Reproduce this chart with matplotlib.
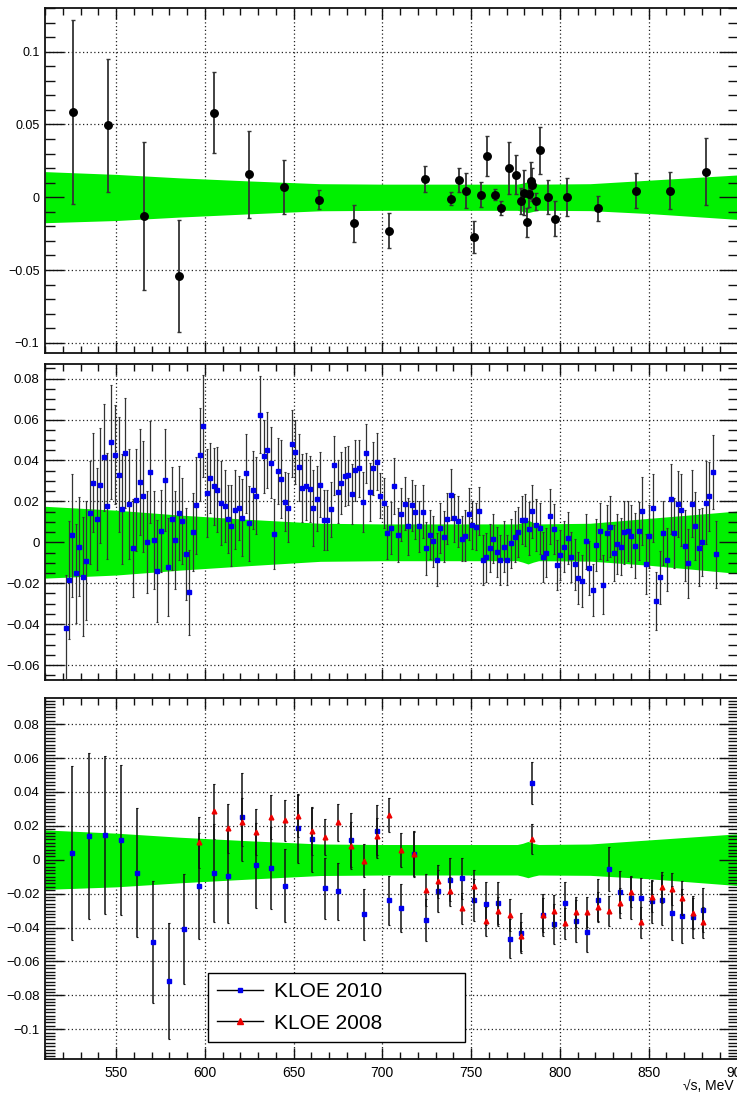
import matplotlib
matplotlib.use("Agg")
import matplotlib.pyplot as plt
from matplotlib.ticker import MultipleLocator, FixedLocator, FuncFormatter
from matplotlib.lines import Line2D

plt.rcParams['font.family'] = ['Liberation Sans', 'DejaVu Sans']

# ---------------- data ----------------
# uncertainty band (common to all panels)
band_x = [510, 550, 586, 625, 665, 700, 740, 776, 779, 782, 785, 788, 817, 850, 900]
band_hi = [0.0176, 0.0157, 0.0133, 0.0112, 0.0093, 0.0090, 0.0090, 0.0090, 0.0097, 0.0108, 0.0097, 0.0090, 0.0093, 0.0117, 0.0153]
band_lo = [-0.0175, -0.0160, -0.0136, -0.0114, -0.0093, -0.0090, -0.0090, -0.0090, -0.0097, -0.0106, -0.0097, -0.0090, -0.0092, -0.0112, -0.0152]

# panel 1 (black circles)
x1 = [525.6, 545.3, 565.5, 585.2, 604.9, 624.8, 644.8, 664.5, 684.2, 703.9, 724.0, 738.7, 743.4, 747.3,
      751.4, 755.6, 759.2, 763.3, 766.7, 771.2, 775.1, 778.3, 780.0, 781.3, 782.6, 783.5, 784.5, 786.7,
      789.0, 793.0, 797.5, 803.7, 821.2, 843.0, 862.1, 882.2]
y1 = [0.0585, 0.0493, -0.0130, -0.0541, 0.0582, 0.0158, 0.0071, -0.0016, -0.0180, -0.0230, 0.0128, -0.0009,
      0.0121, 0.0046, -0.0274, 0.0018, 0.0281, 0.0018, -0.0075, 0.0201, 0.0154, -0.0025, 0.0030, -0.0173,
      0.0025, 0.0114, 0.0087, -0.0028, 0.0322, 0.0004, -0.0148, 0.0004, -0.0077, 0.0046, 0.0046, 0.0176]
e1 = [0.0630, 0.0460, 0.0507, 0.0388, 0.0276, 0.0300, 0.0185, 0.0064, 0.0125, 0.0122, 0.0090, 0.0047,
      0.0083, 0.0120, 0.0110, 0.0088, 0.0137, 0.0037, 0.0050, 0.0176, 0.0133, 0.0090, 0.0155, 0.0100,
      0.0090, 0.0125, 0.0115, 0.0057, 0.0162, 0.0116, 0.0120, 0.0130, 0.0085, 0.0123, 0.0125, 0.0228]

# panel 2 (blue squares)
x2 = [521.7, 523.3, 525.2, 527.3, 529.4, 531.4, 533.3, 535.4, 537.3, 539.3, 541.2, 543.3, 545.1, 547.4,
      549.3, 551.5, 553.4, 555.3, 557.4, 559.4, 561.3, 563.4, 565.4, 567.3, 569.4, 571.3, 573.3, 575.4,
      577.3, 579.3, 581.4, 583.3, 585.2,
      587.2, 589.3, 591.2, 593.2, 595.1, 597.2, 599.1, 601.1, 603.0, 605.1, 607.1, 609.0, 611.1, 613.2,
      615.0, 617.1, 619.2, 621.1, 623.1, 625.0, 627.1, 629.1, 631.0, 633.1, 635.1, 637.0, 639.1, 641.2,
      643.0, 645.1, 647.0, 649.0, 650.9, 653.0, 654.9, 656.9, 659.0, 660.9, 663.0,
      665.0, 666.9, 669.0, 670.8, 672.9, 674.8, 676.9, 678.9, 680.8, 682.9, 684.8, 686.8, 688.9, 690.8,
      692.8, 694.7, 696.8, 698.8, 700.7, 702.8, 704.7, 706.7, 708.6, 710.7, 712.8, 714.6, 716.7, 718.6,
      720.6, 722.7, 724.6, 726.7, 728.5, 730.6, 732.7, 734.5, 736.6, 738.5, 740.6,
      742.8, 744.9, 746.8, 748.8, 750.7, 752.8, 754.7, 756.7, 758.6, 760.7, 762.5, 764.6, 766.5, 768.6,
      770.4, 772.5, 774.6, 776.4, 778.5, 780.4, 782.5, 784.3, 786.4, 788.5, 790.4, 792.4, 794.3, 796.4,
      798.4, 800.3, 802.4, 804.4, 806.3, 808.4, 810.3, 812.3, 814.4,
      816.5, 818.4, 820.4, 822.3, 824.4, 826.4, 828.3, 830.4, 832.3, 834.3, 836.2, 838.3, 840.3, 842.2,
      844.3, 846.3, 848.2, 850.3, 852.2, 854.2, 856.1, 858.2, 860.3, 862.3, 864.2, 866.3, 868.3, 870.2,
      872.3, 874.2, 876.2, 878.3, 880.2, 882.2, 884.1, 886.2, 888.1]
y2 = [-0.0420, -0.0185, 0.0034, -0.0152, -0.0021, -0.0168, -0.0090, 0.0145, 0.0292, 0.0114, 0.0279, 0.0415,
      0.0178, 0.0491, 0.0429, 0.0331, 0.0162, 0.0436, 0.0188, -0.0028, 0.0207, 0.0296, 0.0224, 0.0003,
      0.0343, 0.0013, -0.0139, 0.0057, 0.0305, -0.0121, 0.0116, 0.0013, 0.0144,
      0.0103, -0.0057, -0.0245, 0.0051, 0.0180, 0.0429, 0.0570, 0.0240, 0.0313, 0.0273, 0.0256, 0.0191,
      0.0178, 0.0114, 0.0082, 0.0158, 0.0168, 0.0119, 0.0338, 0.0093, 0.0256, 0.0227, 0.0624, 0.0420,
      0.0452, 0.0390, 0.0041, 0.0348, 0.0309, 0.0199, 0.0170, 0.0482, 0.0442, 0.0367, 0.0266, 0.0273,
      0.0260, 0.0168, 0.0214,
      0.0282, 0.0109, 0.0109, 0.0162, 0.0376, 0.0247, 0.0289, 0.0322, 0.0327, 0.0237, 0.0351, 0.0362,
      0.0198, 0.0436, 0.0247, 0.0361, 0.0393, 0.0227, 0.0194, 0.0046, 0.0070, 0.0276, 0.0036, 0.0137,
      0.0188, 0.0078, 0.0181, 0.0150, 0.0078, 0.0149, -0.0029, 0.0038, 0.0005, -0.0085, 0.0070, 0.0028,
      0.0116, 0.0233, 0.0118,
      0.0103, 0.0018, 0.0033, 0.0137, 0.0085, 0.0077, 0.0152, -0.0085, -0.0073, -0.0028, 0.0018, -0.0047,
      -0.0087, -0.0021, -0.0087, -0.0005, 0.0028, 0.0052, 0.0109, 0.0109, 0.0067, 0.0152, 0.0085, 0.0069,
      -0.0073, -0.0050, 0.0127, 0.0067, -0.0113, -0.0062, -0.0021, 0.0020, -0.0073, -0.0108, -0.0175,
      -0.0189, 0.0005,
      -0.0126, -0.0232, -0.0013, 0.0054, -0.0207, 0.0047, 0.0077, -0.0052, -0.0008, -0.0021, 0.0049,
      0.0057, 0.0029, -0.0016, 0.0056, 0.0153, -0.0106, 0.0029, 0.0168, -0.0287, -0.0171, 0.0046,
      -0.0085, 0.0212, 0.0046, 0.0188, 0.0158, -0.0016, -0.0103, 0.0188, 0.0080, -0.0026, 0.0000,
      0.0194, 0.0224, 0.0343, -0.0059]
e2 = [0.026, 0.029, 0.030, 0.024, 0.024, 0.029, 0.029, 0.025, 0.024, 0.025, 0.028, 0.026, 0.026, 0.028,
      0.024, 0.028, 0.027, 0.027, 0.027, 0.024, 0.025, 0.026, 0.027, 0.025, 0.025, 0.024, 0.025, 0.020,
      0.025, 0.024, 0.025, 0.024, 0.023,
      0.0210, 0.0225, 0.0206, 0.0190, 0.0235, 0.0228, 0.0250, 0.0216, 0.0170, 0.0188, 0.0208, 0.0204,
      0.0175, 0.0166, 0.0196, 0.0193, 0.0157, 0.0188, 0.0193, 0.0184, 0.0190, 0.0188, 0.0188, 0.0180,
      0.0185, 0.0175, 0.0170, 0.0160, 0.0190, 0.0143, 0.0169, 0.0163, 0.0158, 0.0163, 0.0165, 0.0163,
      0.0160, 0.0185, 0.0160,
      0.0157, 0.0145, 0.0148, 0.0135, 0.0144, 0.0153, 0.0151, 0.0143, 0.0144, 0.0147, 0.0147, 0.0139,
      0.0147, 0.0144, 0.0143, 0.0130, 0.0139, 0.0110, 0.0122, 0.0130, 0.0126, 0.0136, 0.0130, 0.0130,
      0.0130, 0.0139, 0.0125, 0.0132, 0.0126, 0.0130, 0.0130, 0.0118, 0.0126, 0.0129, 0.0122, 0.0126,
      0.0126, 0.0126, 0.0118,
      0.0124, 0.0110, 0.0126, 0.0126, 0.0117, 0.0114, 0.0118, 0.0122, 0.0120, 0.0118, 0.0118, 0.0122,
      0.0121, 0.0126, 0.0124, 0.0120, 0.0126, 0.0122, 0.0116, 0.0126, 0.0128, 0.0129, 0.0129, 0.0124,
      0.0122, 0.0122, 0.0135, 0.0122, 0.0122, 0.0124, 0.0126, 0.0126, 0.0122, 0.0125, 0.0128, 0.0126,
      0.0135,
      0.0133, 0.0126, 0.0128, 0.0137, 0.0145, 0.0134, 0.0147, 0.0139, 0.0147, 0.0141, 0.0155, 0.0147,
      0.0151, 0.0157, 0.0143, 0.0167, 0.0145, 0.0155, 0.0167, 0.0141, 0.0130, 0.0155, 0.0153, 0.0171,
      0.0171, 0.0160, 0.0175, 0.0175, 0.0167, 0.0163, 0.0167, 0.0190, 0.0166, 0.0202, 0.0167, 0.0180,
      0.0165]

# panel 3: KLOE 2010 (blue) and KLOE 2008 (red)
x3b = [525.2, 534.6, 544.0, 552.8, 562.0, 570.9, 579.7, 588.0, 596.6, 604.9, 613.2, 621.2, 629.1, 637.2,
       645.1, 652.6, 660.3, 667.8, 675.1, 682.5, 689.8, 696.8, 703.7, 710.7, 717.8, 724.8, 731.5, 738.3,
       745.1, 751.8, 758.4, 765.0, 771.6, 777.9, 784.3, 790.7, 796.9, 803.1, 809.3, 815.5, 821.5, 827.7,
       833.8, 839.8, 845.8, 851.6, 857.4, 863.3, 868.9, 874.7, 880.3]
y3b = [0.0039, 0.0138, 0.0147, 0.0116, -0.0077, -0.0487, -0.0715, -0.0409, -0.0155, -0.0079, -0.0096,
       0.0255, -0.0033, -0.0049, -0.0153, 0.0185, 0.0120, -0.0167, -0.0187, 0.0118, -0.0322, 0.0167,
       -0.0240, -0.0285, 0.0033, -0.0356, -0.0183, -0.0118, -0.0110, -0.0236, -0.0259, -0.0255, -0.0466,
       -0.0432, 0.0454, -0.0328, -0.0380, -0.0255, -0.0360, -0.0428, -0.0236, -0.0055, -0.0190, -0.0224,
       -0.0228, -0.0246, -0.0238, -0.0314, -0.0332, -0.0338, -0.0297]
e3b = [0.0515, 0.0490, 0.0466, 0.0444, 0.0380, 0.0360, 0.0343, 0.0326, 0.0310, 0.0290, 0.0280, 0.0260,
       0.0250, 0.0240, 0.0215, 0.0205, 0.0190, 0.0180, 0.0170, 0.0160, 0.0150, 0.0157, 0.0145, 0.0139,
       0.0134, 0.0125, 0.0123, 0.0126, 0.0123, 0.0125, 0.0125, 0.0126, 0.0116, 0.0118, 0.0123, 0.0123,
       0.0118, 0.0123, 0.0125, 0.0118, 0.0125, 0.0132, 0.0126, 0.0126, 0.0123, 0.0126, 0.0150, 0.0160,
       0.0160, 0.0123, 0.0130]
x3r = [596.6, 604.9, 613.2, 621.2, 629.1, 637.2, 645.1, 652.6, 660.3, 667.8, 675.1, 682.5, 689.8, 696.8,
       703.7, 710.7, 717.8, 724.8, 731.5, 738.3, 745.1, 751.8, 758.4, 765.0, 771.6, 777.9, 784.3, 790.7,
       796.9, 803.1, 809.3, 815.5, 821.5, 827.7, 833.8, 839.8, 845.8, 851.6, 857.4, 863.3, 868.9, 874.7,
       880.3]
y3r = [0.0104, 0.0285, 0.0187, 0.0222, 0.0163, 0.0250, 0.0232, 0.0259, 0.0169, 0.0136, 0.0220, 0.0083,
       -0.0006, 0.0138, 0.0263, 0.0059, 0.0033, -0.0179, -0.0128, -0.0187, -0.0287, -0.0155, -0.0362,
       -0.0305, -0.0326, -0.0452, 0.0124, -0.0328, -0.0302, -0.0375, -0.0308, -0.0308, -0.0279, -0.0302,
       -0.0255, -0.0190, -0.0369, -0.0218, -0.0163, -0.0173, -0.0228, -0.0316, -0.0369]
e3r = [0.0150, 0.0160, 0.0145, 0.0140, 0.0137, 0.0130, 0.0120, 0.0123, 0.0138, 0.0105, 0.0108, 0.0138,
       0.0098, 0.0110, 0.0100, 0.0100, 0.0130, 0.0093, 0.0095, 0.0088, 0.0090, 0.0095, 0.0086, 0.0086,
       0.0093, 0.0086, 0.0090, 0.0100, 0.0095, 0.0090, 0.0090, 0.0090, 0.0090, 0.0090, 0.0090, 0.0090,
       0.0090, 0.0090, 0.0090, 0.0095, 0.0100, 0.0090, 0.0090]

xmajor = [550, 600, 650, 700, 750, 800, 850, 900]
labels = ["KLOE 2010", "KLOE 2008"]
xlabel = "\u221as, MeV"

# ---------------- figure ----------------
W, H = 737, 1095
fig = plt.figure(figsize=(W / 100, H / 100), dpi=100)

def px_axes(left, top, right, bottom):
    return fig.add_axes([left / W, 1 - bottom / H, (right - left) / W, (bottom - top) / H])

ax1 = px_axes(45, 8, 737.5, 353)
ax2 = px_axes(45, 364.3, 737.5, 680)
ax3 = px_axes(45, 698.3, 737.5, 1059)

def fmt(v, pos):
    v = round(v, 6)
    if abs(v) < 1e-9:
        return "0"
    s = "%g" % v
    return s.replace("-", "\u2212")

def style(ax, ylim, yticks, yminor, showx):
    ax.set_xlim(510, 900)
    ax.set_ylim(*ylim)
    ax.xaxis.set_major_locator(FixedLocator(xmajor))
    ax.xaxis.set_minor_locator(MultipleLocator(10))
    ax.yaxis.set_major_locator(FixedLocator(yticks))
    ax.yaxis.set_minor_locator(MultipleLocator(yminor))
    ax.yaxis.set_major_formatter(FuncFormatter(fmt))
    ax.tick_params(which='both', direction='in', top=True, right=True, width=1.0, color='#111111')
    ax.tick_params(axis='y', which='major', length=14, pad=4, labelsize=9.5)
    ax.tick_params(axis='y', which='minor', length=7)
    ax.tick_params(axis='x', which='major', length=8, pad=5, labelsize=10)
    ax.tick_params(axis='x', which='minor', length=5)
    ax.tick_params(axis='x', labelbottom=showx)
    ax.set_axisbelow(False)
    for sp in ax.spines.values():
        sp.set_linewidth(1.3)
        sp.set_color('#111111')
    for xv in xmajor[:-1]:
        ax.axvline(xv, color='#222222', lw=0.9, ls=(0, (1, 2)), zorder=0.5)
    for yv in yticks:
        ax.axhline(yv, color='#222222', lw=0.9, ls=(0, (1, 2)), zorder=0.5)
    ax.fill_between(band_x, band_lo, band_hi, color='#00f000', lw=0, zorder=1)

style(ax1, (-0.107, 0.130), [-0.1, -0.05, 0, 0.05, 0.1], 0.01, False)
style(ax2, (-0.0673, 0.087), [-0.06, -0.04, -0.02, 0, 0.02, 0.04, 0.06, 0.08], 0.005, False)
style(ax3, (-0.1176, 0.0953), [-0.1, -0.08, -0.06, -0.04, -0.02, 0, 0.02, 0.04, 0.06, 0.08], 0.002, True)
ax1.tick_params(axis='y', labelsize=9)

ax1.errorbar(x1, y1, yerr=e1, fmt='o', ms=5.4, color='black', ecolor='#333333',
             elinewidth=1.3, capsize=1.6, capthick=1.0, zorder=3)
ax2.errorbar(x2, y2, yerr=e2, fmt='s', ms=3.4, mfc='#0000ee', mec='#0000ee', ecolor='#333333',
             elinewidth=0.9, capsize=1.0, capthick=0.8, zorder=3)
ax3.errorbar(x3b, y3b, yerr=e3b, fmt='s', ms=2.6, mfc='#0000ee', mec='#0000ee', ecolor='#111111',
             elinewidth=1.1, capsize=0.8, capthick=0.8, zorder=3)
ax3.errorbar(x3r, y3r, yerr=e3r, fmt='^', ms=3.4, mfc='#ee0000', mec='#ee0000', ecolor='#111111',
             elinewidth=1.1, capsize=0.8, capthick=0.8, zorder=4)

handles = [Line2D([], [], color='black', lw=1.0, marker='s', ms=3, mfc='#0000ee', mec='#0000ee'),
           Line2D([], [], color='black', lw=1.0, marker='^', ms=4, mfc='#ee0000', mec='#ee0000')]
leg = ax3.legend(handles, labels, loc='lower left', bbox_to_anchor=(0.2354, 0.0471, 0.3711, 0.1886),
                 mode='expand', fontsize=15, frameon=True, fancybox=False, framealpha=1,
                 edgecolor='black', handlelength=2.2, handletextpad=0.5, borderpad=0.45,
                 labelspacing=0.6, borderaxespad=0)
leg.get_frame().set_linewidth(1.0)
leg.set_zorder(6)

fig.text(683 / W, 1 - 1086 / H, xlabel, ha='left', va='center', fontsize=10)

fig.savefig("out.png", dpi=100)
